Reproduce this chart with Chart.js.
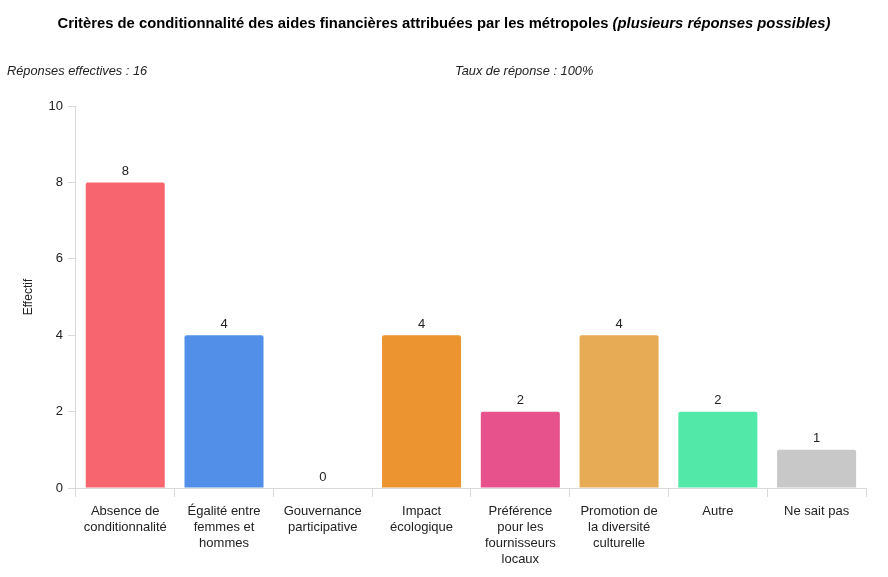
<!DOCTYPE html>
<html>
<head>
<meta charset="utf-8">
<script src="https://cdn.jsdelivr.net/npm/chart.js@4"></script>
<style>
  body { margin: 0; background: #fff; }
  #wrap { width: 888px; height: 577px; }
</style>
</head>
<body>
<div id="wrap"><canvas id="criteresChart"></canvas></div>
<script>
var categories = [
    ["Absence de", "conditionnalité"],
    ["Égalité entre", "femmes et", "hommes"],
    ["Gouvernance", "participative"],
    ["Impact", "écologique"],
    ["Préférence", "pour les", "fournisseurs", "locaux"],
    ["Promotion de", "la diversité", "culturelle"],
    ["Autre"],
    ["Ne sait pas"]
];
var effectifs = [8, 4, 0, 4, 2, 4, 2, 1];
var couleurs = ["#F7656F", "#518FE8", "#AAAAAA", "#EC9430", "#E8528C", "#E8AB55", "#52E8A8", "#C8C8C8"];
var titre = "Critères de conditionnalité des aides financières attribuées par les métropoles ";
var titreItalique = "(plusieurs réponses possibles)";
var sousTitreGauche = "Réponses effectives : 16";
var sousTitreDroite = "Taux de réponse : 100%";

var police = "Arial, 'Liberation Sans', sans-serif";

// en-tete (titre + sous-titres)
var enTete = {
    id: "enTete",
    afterDraw: function(chart) {
        var ctx = chart.ctx;
        ctx.save();
        ctx.fillStyle = "#000";
        ctx.textBaseline = "middle";
        ctx.font = "bold 14.8px " + police;
        var w1 = ctx.measureText(titre).width;
        ctx.font = "italic bold 14.8px " + police;
        var w2 = ctx.measureText(titreItalique).width;
        var x = (chart.width - w1 - w2) / 2;
        ctx.textAlign = "left";
        ctx.font = "bold 14.8px " + police;
        ctx.fillText(titre, x, 24);
        ctx.font = "italic bold 14.8px " + police;
        ctx.fillText(titreItalique, x + w1, 24);

        ctx.font = "italic 12.8px " + police;
        ctx.fillStyle = "#222";
        ctx.fillText(sousTitreGauche, 7, 71);
        ctx.fillText(sousTitreDroite, 455, 71);
        ctx.restore();
    }
};

// valeurs au-dessus des barres
var valeurs = {
    id: "valeurs",
    afterDatasetsDraw: function(chart) {
        var ctx = chart.ctx;
        var meta = chart.getDatasetMeta(0);
        ctx.save();
        ctx.font = "13px " + police;
        ctx.fillStyle = "#222";
        ctx.textAlign = "center";
        ctx.textBaseline = "middle";
        meta.data.forEach(function(bar, i) {
            ctx.fillText(effectifs[i], bar.x, bar.y - 11);
        });
        ctx.restore();
    }
};

var ctxCriteres = document.getElementById("criteresChart");

new Chart(ctxCriteres, {
    type: "bar",
    data: {
        labels: categories,
        datasets: [
            {
                label: "Effectif",
                data: effectifs,
                backgroundColor: couleurs,
                borderRadius: 2,
                borderSkipped: "bottom",
                barPercentage: 0.8,
                categoryPercentage: 1.0
            }
        ]
    },
    options: {
        responsive: true,
        maintainAspectRatio: false,
        animation: false,
        layout: {
            padding: { top: 106, right: 22, left: 17, bottom: 4 }
        },
        plugins: {
            legend: { display: false },
            tooltip: { enabled: false }
        },
        scales: {
            x: {
                grid: {
                    display: true,
                    drawOnChartArea: false,
                    drawTicks: true,
                    tickLength: 9,
                    color: "#D9D9D9",
                    offset: true
                },
                border: { color: "#D9D9D9" },
                ticks: {
                    color: "#222",
                    padding: 6,
                    font: { family: police, size: 13, lineHeight: 1.23 },
                    maxRotation: 0,
                    autoSkip: false
                }
            },
            y: {
                min: 0,
                max: 10,
                grid: {
                    display: true,
                    drawOnChartArea: false,
                    drawTicks: true,
                    tickLength: 8,
                    color: "#D9D9D9"
                },
                border: { color: "#D9D9D9" },
                ticks: {
                    stepSize: 2,
                    color: "#222",
                    padding: 5,
                    font: { family: police, size: 13 }
                },
                title: {
                    display: true,
                    text: "Effectif",
                    color: "#222",
                    font: { family: police, size: 12 },
                    padding: { bottom: 8 }
                }
            }
        }
    },
    plugins: [enTete, valeurs]
});
</script>
</body>
</html>
